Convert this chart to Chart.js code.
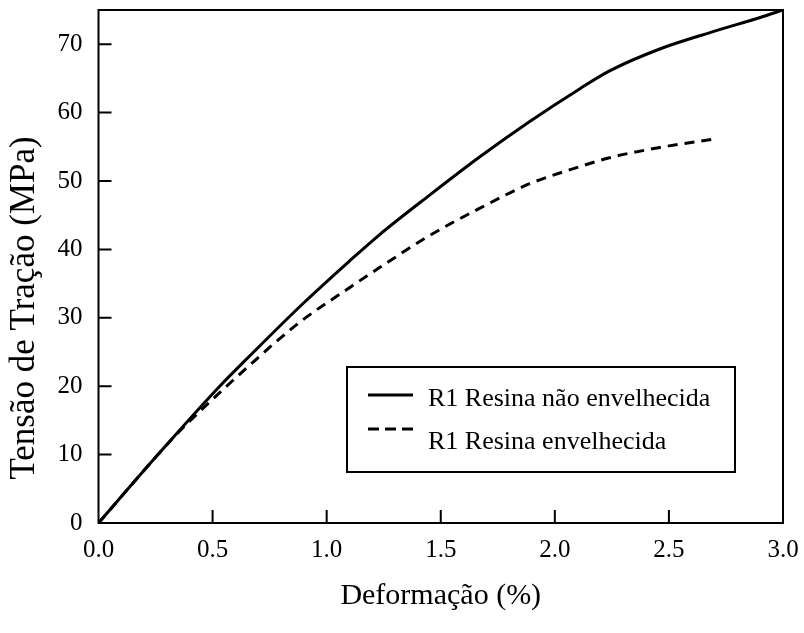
<!DOCTYPE html>
<html>
<head>
<meta charset="utf-8">
<script src="https://cdn.jsdelivr.net/npm/chart.js@4"></script>
<style>
  body { margin: 0; background: #fff; }
  #wrap { width: 804px; height: 633px; }
</style>
</head>
<body>
<div id="wrap"><canvas id="myChart"></canvas></div>
<script>
// strain (%) and stress (MPa)
const strainNew = [0, 0.25, 0.52, 0.68, 0.90, 1.10, 1.23, 1.45, 1.67, 1.89, 2.11, 2.24, 2.46, 2.68, 2.90, 3.0];
const stressNew = [0, 9.6, 19.6, 25.0, 32.2, 38.3, 42.1, 47.9, 53.5, 58.7, 63.5, 66.1, 69.3, 71.7, 73.9, 75.0];
const strainAged = [0, 0.34, 0.45, 0.66, 0.88, 1.10, 1.23, 1.45, 1.67, 1.89, 2.11, 2.24, 2.46, 2.69];
const stressAged = [0, 12.9, 16.5, 23.0, 29.3, 34.4, 37.3, 42.0, 46.0, 49.6, 52.1, 53.4, 54.9, 56.1];
const xTicks = [0.5, 1.0, 1.5, 2.0, 2.5];
const yTicks = [10, 20, 30, 40, 50, 60, 70];
const seriesNames = ["R1 Resina não envelhecida", "R1 Resina envelhecida"];
const yTitle = "Tensão de Tração (MPa)";

const serif = "'Liberation Serif', 'Times New Roman', serif";

toPoints = (xs, ys) => xs.map((x, i) => ({ x: x, y: ys[i] }));

// frame, inward ticks, y title and the boxed legend
const framePlugin = {
    id: "frame",
    afterDraw(chart) {
        const ctx = chart.ctx;
        const ca = chart.chartArea;
        const xs = chart.scales.x, ys = chart.scales.y;
        ctx.save();
        ctx.strokeStyle = "#000";
        ctx.lineWidth = 2;
        ctx.strokeRect(ca.left, ca.top, ca.right - ca.left, ca.bottom - ca.top);
        ctx.beginPath();
        xTicks.forEach(v => {
            const px = xs.getPixelForValue(v);
            ctx.moveTo(px, ca.bottom);
            ctx.lineTo(px, ca.bottom - 13);
        });
        yTicks.forEach(v => {
            const py = ys.getPixelForValue(v);
            ctx.moveTo(ca.left, py);
            ctx.lineTo(ca.left + 13, py);
        });
        ctx.stroke();

        // y axis title, sits a bit low like in the original
        ctx.fillStyle = "#000";
        ctx.save();
        ctx.translate(25, 308);
        ctx.rotate(-Math.PI / 2);
        ctx.font = "35px " + serif;
        ctx.textAlign = "center";
        ctx.textBaseline = "middle";
        ctx.fillText(yTitle, 0, 0);
        ctx.restore();

        // legend box
        ctx.lineWidth = 2;
        ctx.strokeRect(347, 367, 388, 105);
        ctx.lineWidth = 3;
        ctx.beginPath();
        ctx.moveTo(368, 395);
        ctx.lineTo(413, 395);
        ctx.stroke();
        ctx.setLineDash([11, 6]);
        ctx.beginPath();
        ctx.moveTo(368, 429);
        ctx.lineTo(413, 429);
        ctx.stroke();
        ctx.setLineDash([]);
        ctx.font = "26px " + serif;
        ctx.textBaseline = "alphabetic";
        ctx.textAlign = "left";
        ctx.fillText(seriesNames[0], 428, 406);
        ctx.fillText(seriesNames[1], 428, 449);
        ctx.restore();
    }
};

const ctx = document.getElementById("myChart").getContext("2d");
const myChart = new Chart(ctx, {
    type: "line",
    data: {
        datasets: [{
            label: seriesNames[0],
            data: toPoints(strainNew, stressNew),
            borderColor: "#000",
            borderWidth: 3,
            pointRadius: 0,
            cubicInterpolationMode: "monotone"
        }, {
            label: seriesNames[1],
            data: toPoints(strainAged, stressAged),
            borderColor: "#000",
            borderWidth: 3,
            borderDash: [10, 7],
            pointRadius: 0,
            cubicInterpolationMode: "monotone"
        }]
    },
    options: {
        responsive: true,
        maintainAspectRatio: false,
        animation: false,
        layout: { padding: { top: 10, right: 21, left: 0, bottom: 0 } },
        plugins: {
            legend: { display: false },
            tooltip: { enabled: false }
        },
        scales: {
            x: {
                type: "linear",
                min: 0,
                max: 3,
                grid: { display: false },
                border: { display: false },
                ticks: {
                    stepSize: 0.5,
                    color: "#000",
                    font: { family: serif, size: 25 },
                    padding: 4,
                    maxRotation: 0,
                    callback: v => v.toFixed(1)
                },
                title: {
                    display: true,
                    text: "Deformação (%)",
                    color: "#000",
                    font: { family: serif, size: 30 },
                    padding: { top: 0, bottom: 19 }
                },
                afterFit: s => { s.height = 110; s.paddingLeft = 0; s.paddingRight = 0; }
            },
            y: {
                min: 0,
                max: 75,
                grid: { display: false },
                border: { display: false },
                ticks: {
                    stepSize: 10,
                    includeBounds: false,
                    color: "#000",
                    font: { family: serif, size: 25 },
                    padding: 8
                },
                afterFit: s => { s.width = 98.5; s.paddingTop = 0; s.paddingBottom = 0; }
            }
        }
    },
    plugins: [framePlugin]
});
</script>
</body>
</html>
